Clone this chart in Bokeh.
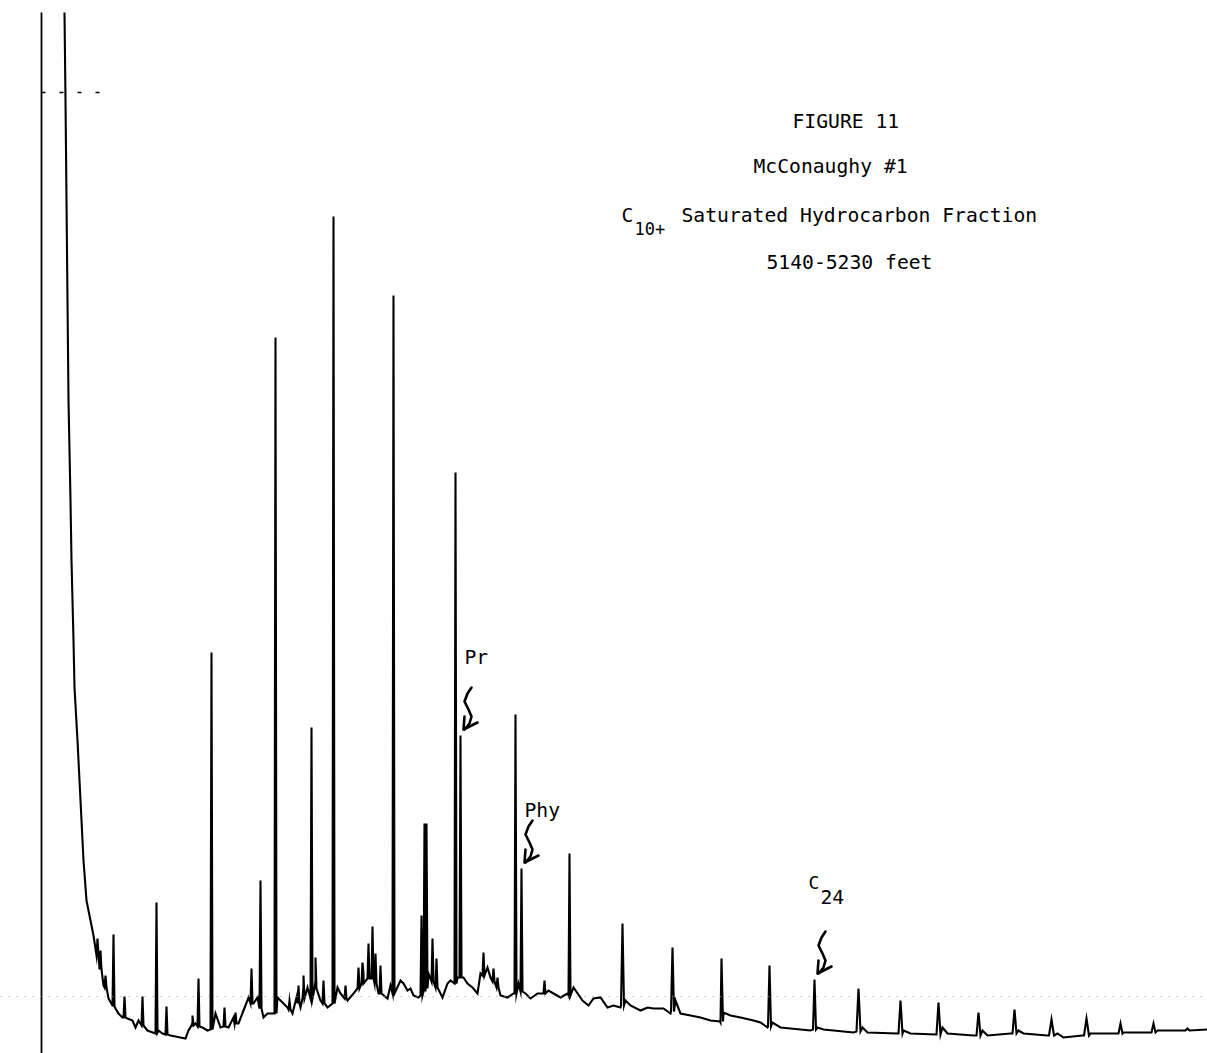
from bokeh.plotting import figure
from bokeh.models import Range1d, ColumnDataSource, Span
from bokeh.core.properties import value
from bokeh.embed import file_html
from bokeh.resources import INLINE

# Gas chromatogram of the C10+ saturated hydrocarbon fraction.
# Retention axis in chart-paper units, detector response in chart-paper units.

# Detector baseline (solvent tail, unresolved hump and noise), point by point
base_rt = [64, 65, 66, 67, 68, 70, 71, 73, 74, 77, 79, 81, 83, 86, 90, 93, 96, 99,
           103, 108, 112, 115, 118, 122, 127, 132, 135, 138, 147, 155, 158, 162,
           170, 180, 185, 188, 192, 195, 202, 207, 215, 220, 228, 233, 238, 243,
           248, 253, 257, 263, 267, 272, 277, 280, 287, 292, 297, 300, 303, 307,
           315, 320, 327, 337, 340, 347, 353, 363, 378, 387, 390, 400, 403, 407,
           410, 413, 418, 428, 433, 437, 442, 447, 450, 457, 463, 467, 472, 477,
           480, 487, 490, 500, 507, 513, 518, 525, 530, 537, 548, 553, 560, 567,
           573, 582, 588, 593, 600, 607, 613, 620, 625, 630, 640, 647, 653, 663,
           670, 675, 680, 690, 700, 710, 720, 723, 730, 740, 753, 760, 767, 772,
           780, 790, 800, 810, 817, 823, 853, 862, 867, 897, 903, 910, 935, 942,
           947, 973, 982, 987, 1010, 1018, 1023, 1047, 1057, 1063, 1082, 1090,
           1117, 1123, 1150, 1157, 1183, 1207]
base_resp = [1041, 953, 853, 753, 653, 553, 493, 413, 366, 313, 273, 233, 193, 153,
             133, 118, 98, 85, 68, 55, 48, 45, 40, 36, 35, 33, 26, 33, 23, 20, 23,
             20, 18, 16, 15, 23, 31, 30, 26, 23, 40, 26, 26, 36, 30, 43, 56, 50,
             56, 36, 40, 40, 56, 53, 46, 40, 60, 46, 68, 66, 73, 53, 46, 66, 60,
             53, 60, 80, 60, 55, 68, 73, 70, 63, 65, 58, 56, 80, 73, 66, 56, 70,
             73, 76, 76, 70, 66, 60, 80, 86, 76, 58, 56, 60, 70, 60, 55, 60, 63,
             60, 56, 60, 66, 53, 48, 55, 56, 46, 48, 46, 53, 48, 43, 46, 45, 45,
             40, 53, 40, 38, 36, 33, 31, 41, 38, 36, 33, 31, 26, 31, 26, 25, 24,
             23, 26, 24, 21, 26, 21, 20, 23, 20, 19, 26, 20, 18, 23, 18, 20, 23,
             20, 18, 20, 16, 18, 20, 20, 21, 21, 23, 23, 24]

# Resolved peaks: retention, apex response, foot response, half width
peak_rt = [97, 100, 105, 113, 124, 142, 156, 166, 192, 198, 211, 224, 235, 251,
           260, 275, 289, 298, 303, 311, 315, 323, 333, 345, 358, 362, 368, 372,
           375, 380, 393, 421, 424, 426, 432, 436, 455, 460, 483, 493, 497, 515,
           521, 544, 569, 622, 672, 721, 769, 814, 858, 900, 938, 978, 1014, 1051,
           1086, 1120, 1153, 1187]
peak_top = [115, 103, 78, 119, 57, 57, 151, 47, 38, 75, 401, 46, 41, 85,
            173, 716, 53, 68, 78, 326, 96, 73, 837, 68, 86, 91, 110, 127,
            100, 88, 758, 138, 230, 230, 115, 95, 581, 318, 101, 85, 76, 339,
            185, 73, 200, 130, 106, 95, 88, 74, 65, 53, 51, 41, 44, 34,
            35, 30, 30, 25]
peak_foot = [98, 84, 66, 47, 36, 28, 21, 19, 28, 27, 24, 27, 30, 50,
             45, 40, 44, 50, 55, 55, 65, 50, 50, 55, 65, 70, 75, 75,
             70, 60, 60, 58, 62, 65, 72, 66, 70, 76, 78, 72, 66, 60,
             62, 60, 58, 48, 42, 32, 27, 24, 22, 20, 19, 18, 20, 18,
             18, 20, 21, 23]
peak_hw = [1, 1, 1, 1, 1, 1, 1, 1, 1, 1, 1, 1, 1, 1,
           1, 1, 1, 1, 1, 1, 1, 1, 1, 1, 1, 1, 1, 1,
           1, 1, 1, 1, 1, 1, 1, 1, 1, 1, 1, 1, 1, 1,
           1, 1, 1, 1.5, 1.5, 1.5, 1.5, 1.5, 2, 2, 2, 2, 2, 2.5,
           2.5, 2, 2, 2]

# Labelled compounds: pristane, phytane, n-C24
marked_rt = [460, 521, 814]
marked_top = [318, 185, 74]

title_lines = ["FIGURE 11", "McConaughy #1", "Saturated Hydrocarbon Fraction", "5140-5230 feet"]

# ---- build the trace: baseline points plus a narrow triangle for each peak
pts = list(zip(base_rt, base_resp))
for x, top, foot, hw in zip(peak_rt, peak_top, peak_foot, peak_hw):
    pts += [(x - hw, foot), (x, top), (x + hw, foot)]
pts.sort(key=lambda t: t[0])
trace = ColumnDataSource(dict(rt=[t[0] for t in pts], resp=[t[1] for t in pts]))

p = figure(width=1207, height=1053, x_range=Range1d(0, 1207), y_range=Range1d(0, 1053),
           x_axis_type=None, y_axis_type=None, output_backend="svg",
           toolbar_location=None, min_border=0)
p.grid.visible = False
p.outline_line_color = None
p.background_fill_color = "white"
p.border_fill_color = "white"

# chart-paper dotted rule and recorder start mark
p.add_layout(Span(location=57, dimension="width", line_color="#9a9a9a",
                  line_dash="1 7", line_width=1))
p.segment(x0=[41], y0=[961], x1=[107], y1=[961], line_color="black",
          line_width=1.5, line_dash="4 14")

# recorder zero line
p.line(x=[41, 41], y=[0, 1041], line_color="black", line_width=1.8)

# chromatogram trace
p.line(x="rt", y="resp", source=trace, line_color="black", line_width=2.1,
       line_join="miter")

# hand-drawn squiggle arrows pointing at marked peaks
sq_dx = [8, 4, 1, 5, 8, 6, 1]
sq_dy = [42, 36, 28, 20, 13, 6, 0]
for x, top in zip(marked_rt, marked_top):
    tx, ty = x + 3, top + 6
    p.line(x=[tx + dx for dx in sq_dx], y=[ty + dy for dy in sq_dy],
           line_color="black", line_width=2.6, line_join="round", line_cap="round")
    p.line(x=[tx + 1, tx, tx + 14], y=[ty + 13, ty, ty + 7],
           line_color="black", line_width=2.6, line_join="round", line_cap="round")

font = value("DejaVu Sans Mono")
txt = dict(text_font=font, text_color="black", text_baseline="alphabetic",
           text_align="left")

p.text(x=[792, 753, 681, 766], y=[932, 887, 838, 791], text=title_lines,
       text_font_size="19.7px", **txt)
p.text(x=[621], y=[838], text=["C"], text_font_size="19.7px", **txt)
p.text(x=[634], y=[825], text=["10+"], text_font_size="17px", **txt)

p.text(x=[464, 524], y=[396, 243], text=["Pr", "Phy"], text_font_size="19.7px", **txt)
p.text(x=[808], y=[171], text=["C"], text_font_size="18px", **txt)
p.text(x=[820], y=[157], text=["24"], text_font_size="19.7px", **txt)

open("out.html", "w").write(file_html(p, INLINE))
